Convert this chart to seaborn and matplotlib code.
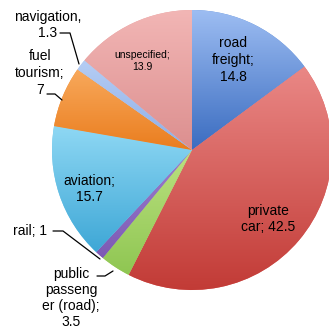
import matplotlib
matplotlib.use("Agg")
import matplotlib.pyplot as plt
import numpy as np
import seaborn as sns
from matplotlib.colors import LinearSegmentedColormap

sns.set_theme(style="white")
plt.rcParams['font.family'] = ['Liberation Sans', 'DejaVu Sans']

categories = ["road freight", "private car", "public passenger (road)", "rail",
              "aviation", "fuel tourism", "navigation", "unspecified"]
values = [14.8, 42.5, 3.5, 1, 15.7, 7, 1.3, 13.9]
colors = ["#5f8fd6", "#dc6462", "#a9d46e", "#8f6dc2",
          "#72c9ea", "#f1923d", "#a8c2ef", "#e9a3a2"]
top_colors = ["#9dbdf2", "#ea8886", "#bbe181", "#9c7fce",
              "#8fd8f4", "#f8a95c", "#b5cdf4", "#f2b6b5"]
bottom_colors = ["#3a6cc0", "#c23b36", "#8fc652", "#7d5ab4",
                 "#3ea7d6", "#ea7d1e", "#8eaee6", "#dc8f8f"]

fig = plt.figure(figsize=(3.29, 3.36), dpi=100)
W, H = 329, 336
cx, cy, r = 192, 150, 140
ax = fig.add_axes([(cx - r) / W, 1 - (cy + r) / H, 2 * r / W, 2 * r / H])
wedges, _ = ax.pie(values, colors=colors, startangle=90, counterclock=False, radius=1,
                   wedgeprops=dict(linewidth=0))

# vertical gradient shading per wedge
for w, ct, cb in zip(wedges, top_colors, bottom_colors):
    t1, t2 = sorted([w.theta1, w.theta2])
    th = np.radians(np.linspace(t1, t2, 200))
    xs = np.concatenate([[0], np.cos(th)])
    ys = np.concatenate([[0], np.sin(th)])
    cmap = LinearSegmentedColormap.from_list("g", [cb, ct])
    grad = np.linspace(0, 1, 256).reshape(-1, 1)
    im = ax.imshow(grad, extent=[xs.min(), xs.max(), ys.min(), ys.max()],
                   origin="lower", cmap=cmap, aspect="auto", zorder=w.get_zorder() + 0.1,
                   interpolation="bilinear")
    im.set_clip_path(w)

ax.set_xlim(-1, 1)
ax.set_ylim(-1, 1)
ax.axis("off")


def d(px, py):
    return ((px - cx) / r, (cy - py) / r)


fs = 10
ls = 1.25
tc = "black"
# inside labels
ax.text(*d(233, 60), "road\nfreight;\n14.8", ha="center", va="center", fontsize=fs, linespacing=ls, color=tc, zorder=5)
ax.text(*d(268, 219), "private\ncar; 42.5", ha="center", va="center", fontsize=fs, linespacing=ls, color=tc, zorder=5)
ax.text(*d(142, 61), "unspecified;\n13.9", ha="center", va="center", fontsize=7.5, linespacing=ls, color=tc, zorder=5)
ax.text(*d(89, 189), "aviation;\n15.7", ha="center", va="center", fontsize=fs, linespacing=ls, color=tc, zorder=5)

# outside labels
ax.text(*d(48, 25), "navigation,\n1.3", ha="center", va="center", fontsize=fs, linespacing=ls, color=tc)
ax.text(*d(40, 73), "fuel\ntourism;\n7", ha="center", va="center", fontsize=fs, linespacing=ls, color=tc)
ax.text(*d(30, 231), "rail; 1", ha="center", va="center", fontsize=fs, linespacing=ls, color=tc)
ax.text(*d(71, 298), "public\npasseng\ner (road);\n3.5", ha="center", va="center", fontsize=fs, linespacing=1.2, color=tc)

# leader lines
for pts in [[(60, 33), (70, 33), (79, 64)],
            [(47, 94), (55, 94), (62, 100)],
            [(53, 231), (63, 231), (100, 259)],
            [(97, 276), (105, 276), (113, 271)]]:
    xs = [d(*p)[0] for p in pts]
    ys = [d(*p)[1] for p in pts]
    ax.plot(xs, ys, color="black", linewidth=0.9, clip_on=False, zorder=5)

fig.savefig("out.png", dpi=100)
